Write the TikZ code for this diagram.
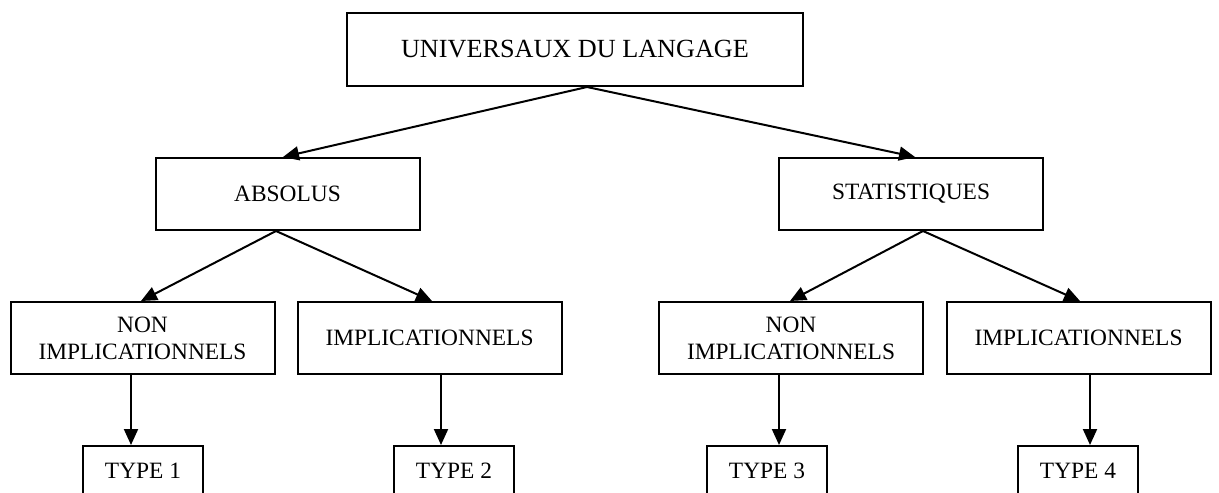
\documentclass[tikz,border=0pt]{standalone}
\usepackage{fontspec}
\setmainfont{Liberation Serif}
\usetikzlibrary{arrows.meta}
\begin{document}
\begin{tikzpicture}[x=0.5pt, y=-0.5pt,
		box/.style={draw, line width=1pt, minimum width=132pt, minimum height=36pt, align=center, font=\fontsize{11.7}{13.5}\selectfont},
		typebox/.style={box, minimum width=60pt, minimum height=25pt},
		link/.style={draw, line width=1pt, -{Triangle[length=8pt, width=7pt]}}]
		\useasboundingbox (0,0) rectangle (1219,492);
		\clip (0,0) rectangle (1219,492);
		\node[box, minimum width=228pt, minimum height=36.5pt, font=\fontsize{13.1}{15}\selectfont](univ) at (575,49.5) {UNIVERSAUX DU LANGAGE};
		\node[box](absolus) at (287.5,194) {ABSOLUS};
		\node[box](statistiques) at (911,194) {STATISTIQUES};
		\node[box](nonabs) at (142.5,338) {NON\\IMPLICATIONNELS};
		\node[box](impabs) at (429.5,338) {IMPLICATIONNELS};
		\node[box](nonstat) at (791,338) {NON\\IMPLICATIONNELS};
		\node[box](impstat) at (1078.5,338) {IMPLICATIONNELS};
		\node[typebox](type1) at (143,471) {TYPE 1};
		\node[typebox](type2) at (454,471) {TYPE 2};
		\node[typebox](type3) at (767,471) {TYPE 3};
		\node[typebox](type4) at (1078,471) {TYPE 4};
		% premier niveau
		\path[link] ([xshift=6pt]univ.south) -- ([xshift=-2.25pt]absolus.north);
		\path[link] ([xshift=6pt]univ.south) -- ([xshift=2pt]statistiques.north);
		% second niveau
		\path[link] ([xshift=-5.75pt]absolus.south) -- ([xshift=-0.75pt]nonabs.north);
		\path[link] ([xshift=-5.75pt]absolus.south) -- ([xshift=1.25pt]impabs.north);
		\path[link] ([xshift=6pt]statistiques.south) -- ([xshift=-0.5pt]nonstat.north);
		\path[link] ([xshift=6pt]statistiques.south) -- ([xshift=0.75pt]impstat.north);
		% types
		\path[link] ([xshift=-5.75pt]nonabs.south) -- ([xshift=-5.75pt]nonabs.south |- type1.north);
		\path[link] ([xshift=5.75pt]impabs.south) -- ([xshift=5.75pt]impabs.south |- type2.north);
		\path[link] ([xshift=-6pt]nonstat.south) -- ([xshift=-6pt]nonstat.south |- type3.north);
		\path[link] ([xshift=5.75pt]impstat.south) -- ([xshift=5.75pt]impstat.south |- type4.north);
	\end{tikzpicture}
\end{document}
